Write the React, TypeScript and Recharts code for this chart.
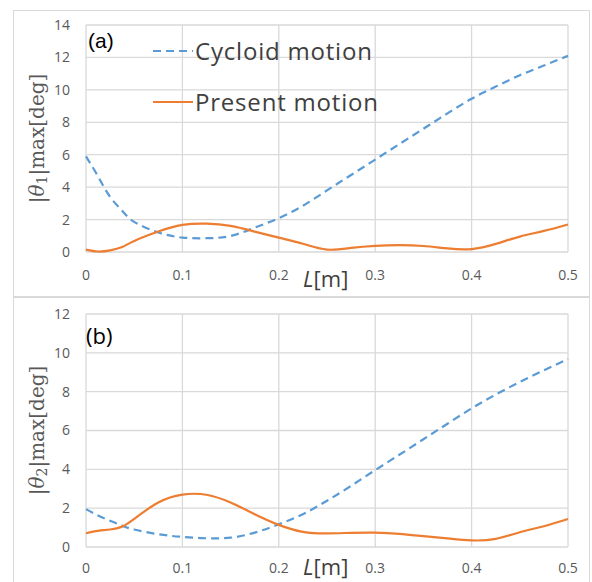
import React from 'react';
import { LineChart, Line, XAxis, YAxis, CartesianGrid } from 'recharts';

const xs = [0, 0.0125, 0.025, 0.0375, 0.05, 0.075, 0.1, 0.125, 0.15, 0.175, 0.2, 0.225, 0.25, 0.275, 0.3, 0.325, 0.35, 0.375, 0.4, 0.425, 0.45, 0.475, 0.5];

// panel (a): |theta1| max
const cycloidA = [5.9, 4.66, 3.4, 2.54, 1.86, 1.2, 0.89, 0.85, 0.99, 1.5, 2.09, 2.85, 3.8, 4.75, 5.7, 6.65, 7.6, 8.55, 9.45, 10.2, 10.9, 11.5, 12.1];
const presentA = [0.15, 0.03, 0.1, 0.31, 0.68, 1.26, 1.67, 1.75, 1.61, 1.26, 0.89, 0.51, 0.15, 0.25, 0.38, 0.42, 0.37, 0.22, 0.18, 0.5, 0.95, 1.3, 1.7];

// panel (b): |theta2| max
const cycloidB = [1.95, 1.62, 1.35, 1.1, 0.9, 0.66, 0.52, 0.45, 0.48, 0.74, 1.17, 1.69, 2.38, 3.15, 3.96, 4.75, 5.55, 6.35, 7.14, 7.85, 8.5, 9.1, 9.68];
const presentB = [0.71, 0.83, 0.9, 1.05, 1.45, 2.29, 2.7, 2.69, 2.29, 1.69, 1.14, 0.78, 0.7, 0.73, 0.74, 0.68, 0.56, 0.44, 0.34, 0.42, 0.76, 1.07, 1.44];

const xTicks = [0, 0.1, 0.2, 0.3, 0.4, 0.5];
const yTicksA = [0, 2, 4, 6, 8, 10, 12, 14];
const yTicksB = [0, 2, 4, 6, 8, 10, 12];

const seriesNames = ['Cycloid motion', 'Present motion'];

const BLUE = '#5b9bd5';
const ORANGE = '#ed7d31';
const GRID = '#d9d9d9';
const TICK = { fill: '#595959', fontSize: 14, fontFamily: 'Open Sans' };

const dataA = xs.map((x, i) => ({ x, cycloid: cycloidA[i], present: presentA[i] }));
const dataB = xs.map((x, i) => ({ x, cycloid: cycloidB[i], present: presentB[i] }));

const YLabel = (sub: string) => (props: any) => {
  const vb = props.viewBox || {};
  const cy = vb.y + vb.height / 2;
  return (
    <text
      x={37}
      y={cy}
      transform={`rotate(-90, 37, ${cy})`}
      textAnchor="middle"
      dominantBaseline="central"
      fill="#595959"
      fontFamily="DejaVu Serif"
      fontSize={20}
    >
      |<tspan fontStyle="italic">θ</tspan>
      <tspan fontSize={14} dy={5}>{sub}</tspan>
      <tspan dy={-5}>|max[deg]</tspan>
    </text>
  );
};

const XLabel = (off: number) => (props: any) => {
  const vb = props.viewBox || {};
  return (
    <text x={303} y={vb.y + off} fill="#404040" fontFamily="Open Sans" fontSize={22} dominantBaseline="central">
      <tspan fontStyle="italic">L</tspan>[m]
    </text>
  );
};

const Panel: React.FC<{ data: any[]; top: number; height: number; mTop: number; xH: number; yMax: number; yTicks: number[]; sub: string; labOff: number; tm: number }> =
  ({ data, top, height, mTop, xH, yMax, yTicks, sub, labOff, tm }) => (
  <div style={{ position: 'absolute', left: 0, top }}>
    <LineChart width={592} height={height} data={data} margin={{ top: mTop, right: 24, left: 0, bottom: 0 }}>
      <CartesianGrid stroke={GRID} strokeWidth={1.3} />
      <XAxis type="number" dataKey="x" domain={[0, 0.5]} ticks={xTicks} height={xH}
        axisLine={false} tickLine={false} tickMargin={tm} tick={TICK} label={{ content: XLabel(labOff) }} />
      <YAxis type="number" domain={[0, yMax]} ticks={yTicks} width={86} interval={0}
        axisLine={false} tickLine={false} tickMargin={10} tick={TICK} label={{ content: YLabel(sub) }} />
      <Line type="natural" dataKey="cycloid" name={seriesNames[0]} stroke={BLUE} strokeWidth={2.2}
        strokeDasharray="8 5" dot={false} isAnimationActive={false} />
      <Line type="natural" dataKey="present" name={seriesNames[1]} stroke={ORANGE} strokeWidth={2.2}
        dot={false} isAnimationActive={false} />
    </LineChart>
  </div>
);

const LegendBox = () => (
  <div style={{ position: 'absolute', left: 153, top: 25, fontFamily: 'Open Sans', fontSize: 24, letterSpacing: 0.8, color: '#404040' }}>
    {seriesNames.map((name, i) => (
      <div key={name} style={{ display: 'flex', alignItems: 'center', height: 51 }}>
        <svg width={40} height={6} style={{ marginRight: 2 }}>
          <line x1={0} y1={3} x2={40} y2={3} stroke={i === 0 ? BLUE : ORANGE} strokeWidth={2}
            strokeDasharray={i === 0 ? '8 5' : undefined} />
        </svg>
        <span>{name}</span>
      </div>
    ))}
  </div>
);

export default function App() {
  return (
    <div style={{ position: 'absolute', left: 0, top: 0, width: 592, height: 582, overflow: 'hidden', background: '#fff' }}>
      <div style={{ position: 'absolute', left: 13, top: 10, width: 575, height: 285, border: `1px solid ${GRID}` }} />
      <div style={{ position: 'absolute', left: 13, top: 297, width: 575, height: 300, border: `1px solid ${GRID}` }} />
      <Panel data={dataA} top={0} height={297} mTop={25} xH={45} yMax={14} yTicks={yTicksA} sub="1" labOff={26} tm={12} />
      <Panel data={dataB} top={290} height={292} mTop={24} xH={35} yMax={12} yTicks={yTicksB} sub="2" labOff={19} tm={10} />
      <LegendBox />
      <div style={{ position: 'absolute', left: 88, top: 29, fontFamily: 'Liberation Sans', fontSize: 21, color: '#000' }}>(a)</div>
      <div style={{ position: 'absolute', left: 86, top: 320, fontFamily: 'Open Sans', fontSize: 22, color: '#000' }}>(b)</div>
    </div>
  );
}
